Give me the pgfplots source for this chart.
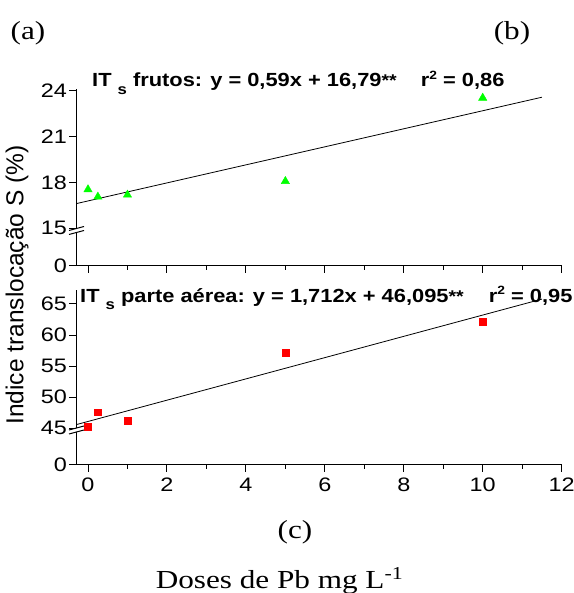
\documentclass[border=0pt]{standalone}
\usepackage{pgfplots}
\pgfplotsset{compat=1.18}
\usepackage{fontspec}
\setmainfont{Liberation Serif}[FakeStretch=1.2]
\newfontfamily\ticksans{Liberation Sans}[FakeStretch=1.2]
\newfontfamily\annsans{Liberation Sans Bold}[FakeStretch=1.15]
\newfontfamily\labsans{Liberation Sans}
\begin{document}
\begin{tikzpicture}
\useasboundingbox (0,0) rectangle (574bp,593bp);
\pgfplotsset{
  myax/.style={
    scale only axis, width=485.5bp,
    xmin=-0.3, xmax=12,
    axis x line*=bottom, axis y line*=left,
    xtick pos=bottom, ytick pos=left,
    axis line style={line width=1bp},
    every tick/.style={black, line width=1bp},
    tick align=outside,
    major tick length=7bp, minor tick length=4bp,
    xtick={0,2,4,6,8,10,12},
    minor xtick={1,3,5,7,9,11},
    tick label style={font=\ticksans\fontsize{19.5bp}{20bp}\selectfont, inner sep=0pt},
    xticklabel shift=6bp,
    yticklabel shift=2bp,
    clip=false,
  }
}
\begin{axis}[myax, at={(76.16bp,327.3bp)}, anchor=south west, height=176.5bp,
  ymin=12.554, ymax=24.1,
  ytick={12.554,15,18,21,24}, yticklabels={0,15,18,21,24},
  xticklabels={{},{},{},{},{},{},{}}]
\addplot[black, line width=0.8bp] coordinates {(-0.3,16.613) (11.5,23.575)};
\addplot[only marks, mark=triangle*, mark size=4.8bp, color=green, mark options={draw=green, fill=green}]
  coordinates {(0,17.54) (0.25,17.06) (1,17.19) (5,18.08) (10,23.53)};
\end{axis}
\begin{axis}[myax, at={(76.16bp,128bp)}, anchor=south west, height=174.7bp,
  ymin=39.09, ymax=67.2,
  ytick={39.09,45,50,55,60,65}, yticklabels={0,45,50,55,60,65},
  xticklabels={0,2,4,6,8,10,12}]
\addplot[black, line width=0.8bp] coordinates {(-0.3,45.581) (11.5,65.783)};
\addplot[only marks, mark=square*, mark size=3.4bp, color=red, mark options={draw=red, fill=red}]
  coordinates {(0,45.3) (0.25,47.58) (1,46.24) (5,57.1) (10,62.2)};
\end{axis}
% axis breaks
\fill[white] (72bp,359.6bp) -- (81bp,362bp) -- (81bp,365.5bp) -- (72bp,363.1bp) -- cycle;
\draw[line width=1bp] (69bp,358.5bp) -- (84bp,362.5bp);
\draw[line width=1bp] (69bp,362.5bp) -- (84bp,366.5bp);
\fill[white] (72bp,160.1bp) -- (81bp,162.5bp) -- (81bp,166bp) -- (72bp,163.6bp) -- cycle;
\draw[line width=1bp] (69bp,159bp) -- (84bp,163bp);
\draw[line width=1bp] (69bp,163bp) -- (84bp,167bp);
% annotations
\node[anchor=base west, inner sep=0pt, font=\annsans\fontsize{19bp}{20bp}\selectfont] at (92bp,506.3bp)
  {IT \raisebox{-7.6bp}{\fontsize{14.5bp}{15bp}\selectfont s} frutos: y = 0,59x + 16,79{\fontsize{17bp}{17bp}\selectfont **}\hspace{24bp}r\raisebox{7.5bp}{\fontsize{12bp}{12bp}\selectfont 2} = 0,86};
\node[anchor=base west, inner sep=0pt, font=\annsans\fontsize{19bp}{20bp}\selectfont] at (80bp,290.7bp)
  {IT \raisebox{-7.6bp}{\fontsize{14.5bp}{15bp}\selectfont s} parte aérea: y = 1,712x + 46,095{\fontsize{17bp}{17bp}\selectfont **}\hspace{25bp}r\raisebox{7.5bp}{\fontsize{12bp}{12bp}\selectfont 2} = 0,95};
\node[rotate=90, anchor=base, inner sep=0pt, font=\labsans\fontsize{24.5bp}{25bp}\selectfont] at (23.3bp,308bp)
  {Indice translocação S (\%)};
\node[inner sep=0pt, font=\fontsize{26bp}{27bp}\selectfont] at (28bp,560bp) {(a)};
\node[inner sep=0pt, font=\fontsize{26bp}{27bp}\selectfont] at (512bp,560bp) {(b)};
\node[inner sep=0pt, font=\fontsize{26bp}{27bp}\selectfont] at (295bp,60.5bp) {(c)};
\node[anchor=base, inner sep=0pt, font=\fontsize{26bp}{27bp}\selectfont] at (279.5bp,5bp) {Doses de Pb mg L\textsuperscript{-1}};
\end{tikzpicture}
\end{document}
